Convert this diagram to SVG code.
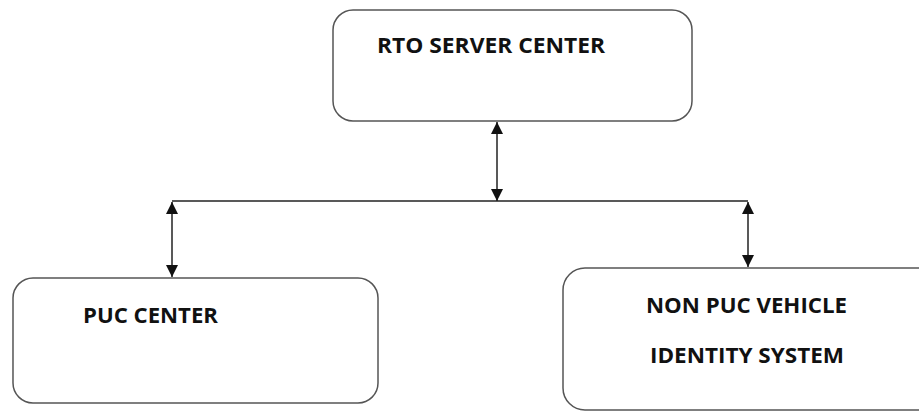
<svg xmlns="http://www.w3.org/2000/svg" width="919" height="412" viewBox="0 0 919 412">
<style>
.box{fill:#fff;stroke:#555;stroke-width:1.5}
.lbl{font-family:"Open Sans","Liberation Sans",sans-serif;font-weight:bold;font-size:22px;fill:#111}
.ln{stroke:#222;stroke-width:1.5;fill:none}
</style>
<defs>
<marker id="ah" viewBox="0 0 12 12" refX="12" refY="6" markerWidth="12" markerHeight="12" markerUnits="userSpaceOnUse" orient="auto-start-reverse">
<path d="M0,0 L12,6 L0,12 Z" fill="#111"/>
</marker>
</defs>
<rect width="919" height="412" fill="#fff"/>
<g id="connectors">
<line class="ln" x1="172" y1="201" x2="748" y2="201"/>
<line class="ln" x1="497" y1="122" x2="497" y2="201" marker-start="url(#ah)" marker-end="url(#ah)"/>
<line class="ln" x1="172" y1="202" x2="172" y2="277" marker-start="url(#ah)" marker-end="url(#ah)"/>
<line class="ln" x1="748" y1="202" x2="748" y2="267" marker-start="url(#ah)" marker-end="url(#ah)"/>
</g>
<g id="rto">
<rect class="box" x="333" y="10" width="359" height="111" rx="20"/>
<text class="lbl" x="377" y="53" textLength="228" lengthAdjust="spacingAndGlyphs">RTO SERVER CENTER</text>
</g>
<g id="puc">
<rect class="box" x="13" y="278" width="365" height="125" rx="20"/>
<text class="lbl" x="83" y="323" textLength="135" lengthAdjust="spacingAndGlyphs">PUC CENTER</text>
</g>
<g id="nonpuc">
<rect class="box" x="563" y="268" width="380" height="142" rx="22"/>
<text class="lbl" x="646" y="313" textLength="201" lengthAdjust="spacingAndGlyphs">NON PUC VEHICLE</text>
<text class="lbl" x="650" y="363" textLength="194" lengthAdjust="spacingAndGlyphs">IDENTITY SYSTEM</text>
</g>
</svg>
